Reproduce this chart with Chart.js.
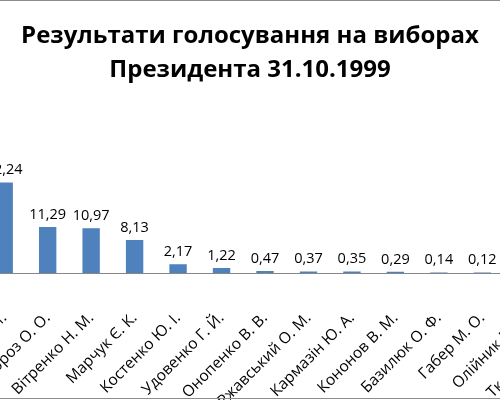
<!DOCTYPE html>
<html>
<head>
<meta charset="utf-8">
<script src="https://cdn.jsdelivr.net/npm/chart.js@4.4.1/dist/chart.umd.min.js"></script>
<style>
  html, body { margin: 0; padding: 0; background: #fff; }
  #frame { position: relative; width: 500px; height: 400px; overflow: hidden; }
  #wrap { position: absolute; left: -110px; top: 0; width: 720px; height: 400px; }
  #edge { position: absolute; left: 0; top: 0; width: 500px; height: 397px;
          border-top: 1px solid #8c8c8c; border-bottom: 1px solid #8c8c8c; pointer-events: none; }
</style>
</head>
<body>
<div id="frame">
  <div id="wrap"><canvas id="chart"></canvas></div>
  <div id="edge"></div>
</div>
<script>
const candidates = ['Кучма Л. Д.', 'Симоненко П. М.', 'Мороз О. О.', 'Вітренко Н. М.', 'Марчук Є. К.',
  'Костенко Ю. І.', 'Удовенко Г. Й.', 'Онопенко В. В.', 'Ржавський О. М.', 'Кармазін Ю. А.',
  'Кононов В. М.', 'Базилюк О. Ф.', 'Габер М. О.', 'Олійник В. П.', 'Ткаченко О. М.'];
const votes = [36.49, 22.24, 11.29, 10.97, 8.13, 2.17, 1.22, 0.47, 0.37, 0.35, 0.29, 0.14, 0.12, 0.1, 0];
const titleLines = ['Результати голосування на виборах', 'Президента 31.10.1999'];

// values above the bars, Excel style with comma
const valueLabels = {
  id: 'valueLabels',
  afterDatasetsDraw(chart) {
    const ctx = chart.ctx;
    const meta = chart.getDatasetMeta(0);
    ctx.save();
    ctx.font = '14.5px "Open Sans"';
    ctx.fillStyle = '#000';
    ctx.textAlign = 'center';
    ctx.textBaseline = 'bottom';
    meta.data.forEach((bar, i) => {
      ctx.fillText(votes[i].toFixed(2).replace('.', ','), bar.x, bar.y - 5);
    });
    ctx.restore();
  }
};

new Chart(document.getElementById('chart'), {
  type: 'bar',
  data: {
    labels: candidates,
    datasets: [{
      data: votes,
      backgroundColor: '#4f81bd',
      categoryPercentage: 1,
      barPercentage: 0.4
    }]
  },
  options: {
    responsive: true,
    maintainAspectRatio: false,
    animation: false,
    layout: { padding: 0 },
    plugins: {
      legend: { display: false },
      tooltip: { enabled: false },
      title: {
        display: true,
        text: titleLines,
        color: '#000',
        font: { family: 'Open Sans', size: 24, weight: 'bold', lineHeight: 1.42 },
        padding: { top: 19, bottom: 23 }
      }
    },
    scales: {
      x: {
        grid: { display: false },
        border: { display: true, color: '#868686' },
        ticks: {
          autoSkip: false, minRotation: 45, maxRotation: 45,
          color: '#000', font: { family: 'Open Sans', size: 15.5 }, padding: 28
        },
        afterFit(scale) {
          // plot area sits 49px from the left edge and 19px from the right
          scale.paddingLeft = 49;
          scale.paddingRight = 19;
          scale.height = 127;
        }
      },
      y: { display: false, min: 0, max: 40 }
    }
  },
  plugins: [valueLabels]
});
</script>
</body>
</html>
